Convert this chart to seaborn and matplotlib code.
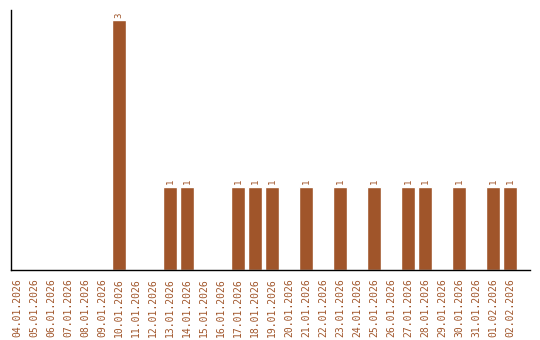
import matplotlib
matplotlib.use("Agg")
import matplotlib.pyplot as plt
import seaborn as sns
import pandas as pd

dates = ["04.01.2026", "05.01.2026", "06.01.2026", "07.01.2026", "08.01.2026",
         "09.01.2026", "10.01.2026", "11.01.2026", "12.01.2026", "13.01.2026",
         "14.01.2026", "15.01.2026", "16.01.2026", "17.01.2026", "18.01.2026",
         "19.01.2026", "20.01.2026", "21.01.2026", "22.01.2026", "23.01.2026",
         "24.01.2026", "25.01.2026", "26.01.2026", "27.01.2026", "28.01.2026",
         "29.01.2026", "30.01.2026", "31.01.2026", "01.02.2026", "02.02.2026"]
counts = [0, 0, 0, 0, 0, 0, 3, 0, 0, 1,
          1, 0, 0, 1, 1, 1, 0, 1, 0, 1,
          0, 1, 0, 1, 1, 0, 1, 0, 1, 1]

df = pd.DataFrame({"date": dates, "count": counts})
color = "#A0552A"

sns.set_style("white")
plt.rcParams['font.family'] = ['DejaVu Sans Mono', 'DejaVu Sans']

fig = plt.figure(figsize=(5.4, 3.4), dpi=100)
ax = fig.add_axes([11/540, 70/340, 519/540, 260/340])
sns.barplot(data=df, x="date", y="count", color=color, width=0.82,
            saturation=1, ax=ax)

for i, v in enumerate(counts):
    if v > 0:
        ax.text(i, v + 0.03, str(v), rotation=90, ha="center", va="bottom",
                fontsize=6.5, color=color)

ax.set_ylim(0, 3.12)
ax.set_xlim(-0.35, len(dates) - 1 + 1.18)
ax.set_xlabel("")
ax.set_ylabel("")
ax.set_yticks([])
ax.tick_params(axis="x", rotation=90, labelsize=7, colors=color, length=0, pad=6)
for s in ["top", "right"]:
    ax.spines[s].set_visible(False)
for s in ["left", "bottom"]:
    ax.spines[s].set_color("black")
    ax.spines[s].set_linewidth(1)

fig.savefig("out.png", dpi=100)
